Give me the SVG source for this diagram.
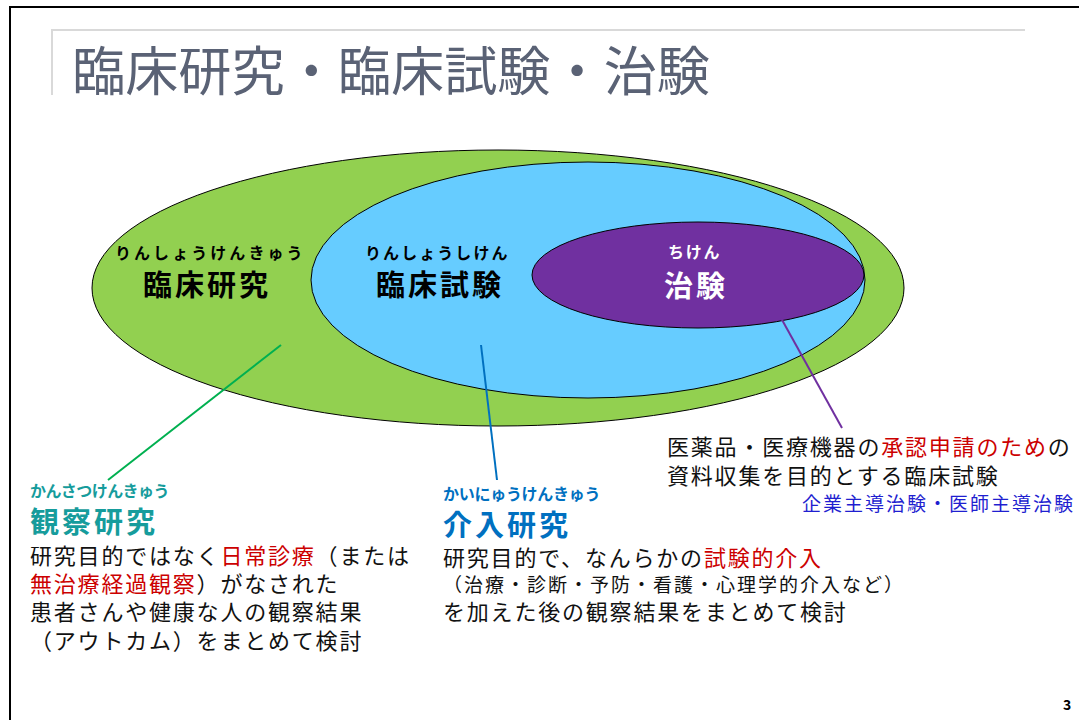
<svg xmlns="http://www.w3.org/2000/svg" width="1079" height="720" viewBox="0 0 1079 720">
<style>
text{font-family:"Noto Sans CJK JP","Noto Sans",sans-serif;}
.ruby{font-size:16px;font-weight:bold;letter-spacing:2.5px;}
.lab{font-size:29px;font-weight:bold;letter-spacing:3px;}
.body{font-size:22px;letter-spacing:1.8px;fill:#111;}
.red{fill:#cc0000;}
.ell{stroke:#000;stroke-width:1;}
</style>
<rect x="0" y="0" width="1079" height="720" fill="#fff"/>
<path d="M10,720 V7 H1079" fill="none" stroke="#000" stroke-width="2"/>
<g id="title">
<path d="M52,95 V30 H1025" fill="none" stroke="#d9d9d9" stroke-width="2"/>
<text x="72" y="91" font-size="53" fill="#5a6275" textLength="638" lengthAdjust="spacingAndGlyphs">臨床研究・臨床試験・治験</text>
</g>
<g id="node-rinsho-kenkyu">
<ellipse class="ell" cx="498" cy="288" rx="406" ry="138" fill="#92d050"/>
<text class="ruby" x="115" y="259" textLength="190">りんしょうけんきゅう</text>
<text class="lab" x="143" y="296">臨床研究</text>
</g>
<g id="node-rinsho-shiken">
<ellipse class="ell" cx="588" cy="280" rx="277" ry="118" fill="#66ccff"/>
<text class="ruby" x="365" y="259" textLength="145">りんしょうしけん</text>
<text class="lab" x="376" y="296">臨床試験</text>
</g>
<g id="node-chiken">
<ellipse class="ell" cx="698" cy="275" rx="166" ry="53" fill="#7030a0"/>
<text class="ruby" x="668" y="258" fill="#fff" textLength="54">ちけん</text>
<text class="lab" x="664" y="297" fill="#fff">治験</text>
</g>
<g id="connectors">
<line x1="281" y1="345" x2="108" y2="480" stroke="#00b050" stroke-width="2"/>
<line x1="481" y1="345" x2="497" y2="480" stroke="#0070c0" stroke-width="2"/>
<line x1="781" y1="318" x2="842" y2="428" stroke="#7030a0" stroke-width="2"/>
</g>
<g id="node-kansatsu">
<text class="ruby" x="30" y="497" fill="#169c9c" textLength="142">かんさつけんきゅう</text>
<text class="lab" x="30" y="533" fill="#169c9c">観察研究</text>
<text class="body" x="30" y="564">研究目的ではなく<tspan class="red">日常診療</tspan>（または</text>
<text class="body" x="30" y="592"><tspan class="red">無治療経過観察</tspan>）がなされた</text>
<text class="body" x="30" y="620">患者さんや健康な人の観察結果</text>
<text class="body" x="30" y="649">（アウトカム）をまとめて検討</text>
</g>
<g id="node-kainyu">
<text class="ruby" x="443" y="500" fill="#0070c0" textLength="160">かいにゅうけんきゅう</text>
<text class="lab" x="443" y="536" fill="#0070c0">介入研究</text>
<text class="body" x="443" y="566">研究目的で、なんらかの<tspan class="red">試験的介入</tspan></text>
<text x="443" y="592" font-size="19" fill="#111" letter-spacing="2">（治療・診断・予防・看護・心理学的介入など）</text>
<text class="body" x="443" y="620">を加えた後の観察結果をまとめて検討</text>
</g>
<g id="node-chiken-desc">
<text class="body" x="667" y="455">医薬品・医療機器の<tspan class="red">承認申請のため</tspan>の</text>
<text class="body" x="667" y="484">資料収集を目的とする臨床試験</text>
<text x="802" y="511" font-size="19" fill="#1f1fd0" letter-spacing="2">企業主導治験・医師主導治験</text>
</g>
<text x="1063" y="710" font-size="14" font-weight="bold" fill="#000" font-family="Liberation Sans, sans-serif">3</text>
</svg>
